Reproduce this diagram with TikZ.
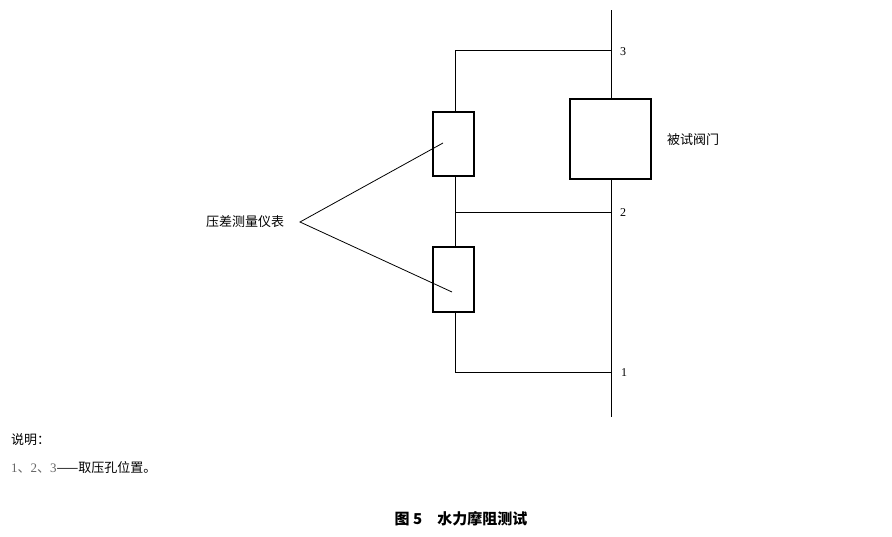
\documentclass[tikz,border=0pt]{standalone}
\usepackage{fontspec}
\setmainfont{Liberation Serif}
\newfontfamily\cjk{Noto Sans CJK SC}
\begin{document}
\begin{tikzpicture}[x=1pt,y=-1pt,
  ln/.style={line width=0.8pt},
  box/.style={draw,line width=1.6pt,inner sep=0,minimum width=#1},
  lab/.style={font=\fontsize{12}{13}\selectfont,inner sep=0},
  clab/.style={font=\cjk\fontsize{13}{14}\selectfont,inner sep=0}]
\useasboundingbox (0,0) rectangle (892,536);
\node[box=41pt,minimum height=64pt] (g1) at (453.5,144) {};
\node[box=41pt,minimum height=65pt] (g2) at (453.5,279.5) {};
\node[box=81pt,minimum height=80pt] (v) at (610.5,139) {};
\coordinate (top) at (611,10); \coordinate (bot) at (611,417);
\coordinate (p3) at (611,50); \coordinate (p2) at (611,212); \coordinate (p1) at (611,372);
\coordinate (a3) at (455,50); \coordinate (a2) at (455,212); \coordinate (a1) at (455,372);
\draw[ln] (top) -- (top |- v.north); \draw[ln] (bot |- v.south) -- (bot);
\draw[ln] (p3) -- (a3) -- (a3 |- g1.north);
\draw[ln] (a3 |- g1.south) -- (a3 |- g2.north);
\draw[ln] (a2) -- (p2);
\draw[ln] (a3 |- g2.south) -- (a1) -- (p1);
\node[lab] (l3) at (623,52) {3};
\node[lab] (l2) at (623,213) {2};
\node[lab] (l1) at (624,373) {1};
\node[clab] (vl) at (693,140) {被试阀门};
\node[clab] (gl) at (245,222) {压差测量仪表};
\coordinate (tip) at (300,222);
\coordinate (e1) at (443,143); \coordinate (e2) at (452,292);
\draw[ln] (e1) -- (tip) -- (e2);
\node[clab,anchor=west] (s1) at (11,440) {说明：};
\node[clab,anchor=west] (s2) at (11,468) {\color{gray!80!black}{\rmfamily 1}、{\rmfamily 2}、{\rmfamily 3}\color{black}——取压孔位置。};
\node[font=\cjk\bfseries\fontsize{15}{16}\selectfont,inner sep=0] (cap) at (461,519) {图 5\quad 水力摩阻测试};
\end{tikzpicture}
\end{document}
